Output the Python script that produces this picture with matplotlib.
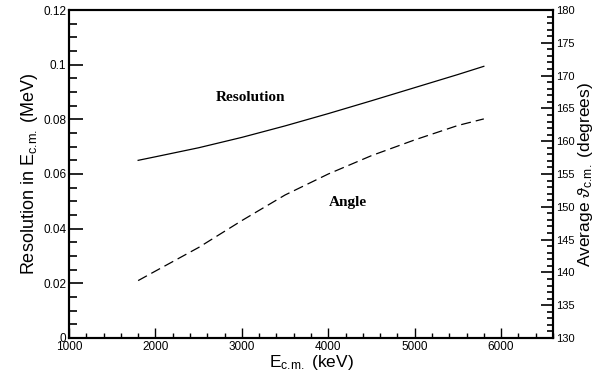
import matplotlib
matplotlib.use("Agg")
from matplotlib import pyplot as plt
from matplotlib.ticker import MultipleLocator

# values
energy = [1800, 2000, 2500, 3000, 3500, 4000, 4500, 5000, 5500, 5800]
resolution = [0.0650, 0.0663, 0.0696, 0.0734, 0.0776, 0.0821, 0.0868, 0.0916, 0.0964, 0.0994]
angle = [138.75, 140.2, 143.8, 147.9, 151.8, 155.0, 157.8, 160.2, 162.4, 163.4]

y_ticks = [0, 0.02, 0.04, 0.06, 0.08, 0.1, 0.12]
y_labels = ['0', '0.02', '0.04', '0.06', '0.08', '0.1', '0.12']

plt.rcParams['font.family'] = ['Liberation Sans', 'DejaVu Sans']
plt.rcParams['mathtext.fontset'] = 'custom'
plt.rcParams['mathtext.rm'] = 'Liberation Sans'
plt.rcParams['mathtext.it'] = 'Liberation Sans:italic'

fig = plt.figure(figsize=(6.08, 3.75), dpi=100)
ax = fig.add_axes([0.1135, 0.0987, 0.796, 0.8746])
ax2 = ax.twinx()

ax.plot(energy, resolution, color='black', lw=0.9)
ax2.plot(energy, angle, color='black', lw=0.9, dashes=(8, 4))

ax.set_xlim(1000, 6600)
ax.set_ylim(0, 0.12)
ax2.set_ylim(130, 180)

ax.xaxis.set_major_locator(MultipleLocator(1000))
ax.xaxis.set_minor_locator(MultipleLocator(200))
ax.yaxis.set_minor_locator(MultipleLocator(0.005))
ax2.yaxis.set_major_locator(MultipleLocator(5))
ax2.yaxis.set_minor_locator(MultipleLocator(1))
ax.set_yticks(y_ticks)
ax.set_yticklabels(y_labels)

ax.tick_params(axis='x', which='major', direction='in', length=7, width=1, labelsize=8.5, pad=2, top=False)
ax.tick_params(axis='x', which='minor', direction='in', length=3.5, width=1, top=False)
ax.tick_params(axis='y', which='major', direction='in', length=10, width=1.2, labelsize=8.5, pad=2)
ax.tick_params(axis='y', which='minor', direction='in', length=5.5, width=1.2)
ax2.tick_params(axis='y', which='major', direction='in', length=9, width=1.2, labelsize=8, pad=2)
ax2.tick_params(axis='y', which='minor', direction='in', length=4.5, width=1.2)

for a in (ax, ax2):
    for s in a.spines.values():
        s.set_linewidth(1.5)

cm = r'_{\mathregular{c.\!m.}}'
ax.set_xlabel(r'E$' + cm + r'$ (keV)', fontsize=12.5, labelpad=0)
ax.set_ylabel(r'Resolution in E$' + cm + r'$ (MeV)', fontsize=13, labelpad=2)
ax2.set_ylabel(r'Average $\vartheta' + cm + r'$ (degrees)', fontsize=12.5, labelpad=1)

ax.text(3095, 0.088, 'Resolution', family='Liberation Serif', weight='bold', fontsize=11, ha='center', va='center')
ax.text(4229, 0.0496, 'Angle', family='Liberation Serif', weight='bold', fontsize=11, ha='center', va='center')

fig.savefig('out.png', dpi=100)
